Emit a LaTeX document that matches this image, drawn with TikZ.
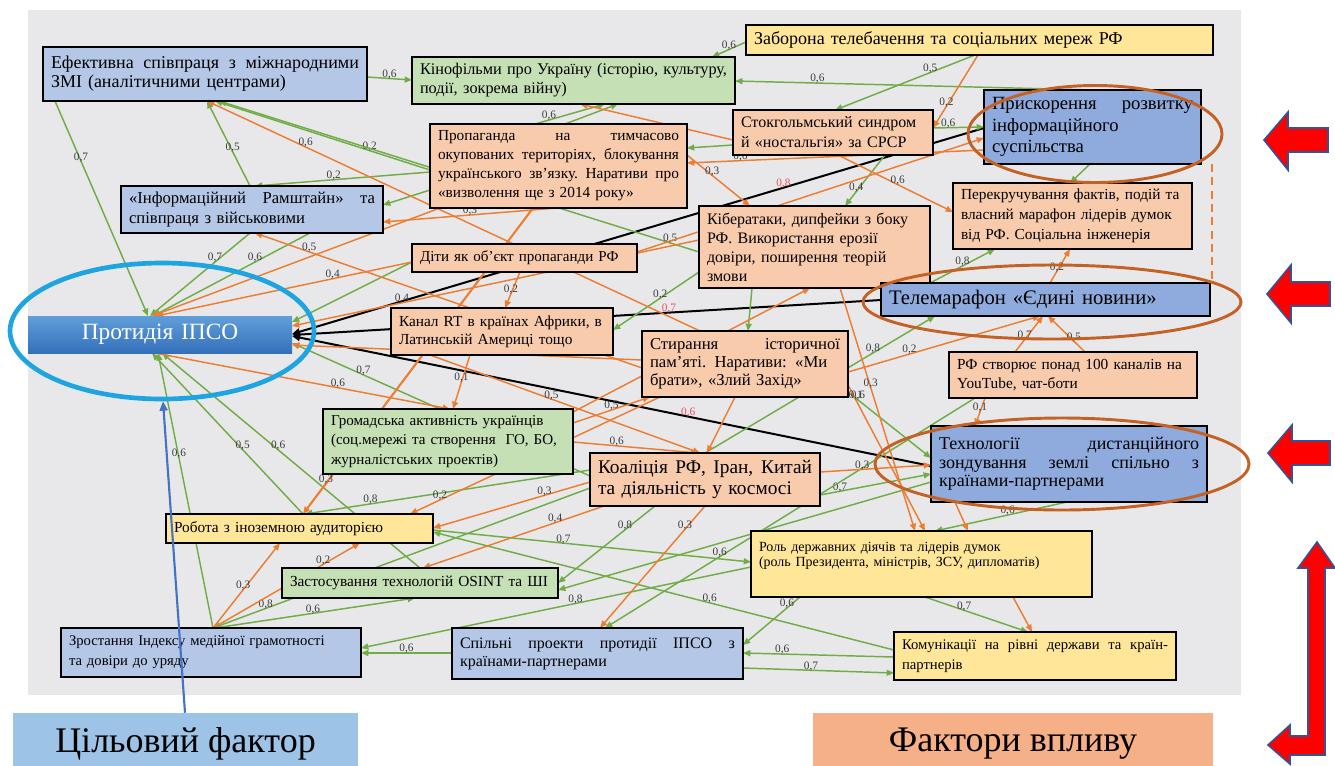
\documentclass[tikz,border=0pt]{standalone}
\usepackage{fontspec}
\setmainfont{Liberation Serif}
\usetikzlibrary{arrows.meta,shapes.geometric,calc}
\pgfdeclarelayer{bgl}\pgfdeclarelayer{edl}\pgfsetlayers{bgl,edl,main}
\definecolor{bgG}{RGB}{232,232,234}
\definecolor{cBlueL}{RGB}{180,199,231}
\definecolor{cBlueD}{RGB}{143,170,220}
\definecolor{cGreen}{RGB}{197,224,180}
\definecolor{cOrange}{RGB}{248,203,173}
\definecolor{cYellow}{RGB}{255,230,153}
\definecolor{eG}{RGB}{112,173,71}
\definecolor{eO}{RGB}{237,125,49}
\definecolor{ellO}{RGB}{196,98,38}
\definecolor{ellC}{RGB}{30,165,225}
\definecolor{labc}{RGB}{60,60,60}
\definecolor{labred}{RGB}{235,80,90}
\definecolor{arrR}{RGB}{255,0,0}
\definecolor{arrB}{RGB}{47,85,151}
\definecolor{arrBl}{RGB}{68,114,196}
\definecolor{tfc}{RGB}{157,195,230}
\definecolor{fvc}{RGB}{245,176,135}
\definecolor{protT}{RGB}{96,158,218}
\definecolor{protB}{RGB}{52,112,186}
\newcommand{\FS}[2]{\fontsize{#1}{#2}\selectfont}
\newcommand{\JL}[1]{\leavevmode\hbox to \hsize{\spaceskip=0.3em plus 1fil minus 0.15em\relax #1}}
\newcommand{\MkBox}[7]{%
  \pgfmathsetlengthmacro\mkW{(#4-#2)*0.75pt}%
  \pgfmathsetlengthmacro\mkH{(#5-#3)*0.75pt}%
  \pgfmathsetlengthmacro\mkT{(#4-#2-16)*0.75pt}%
  \node[bxs,#6,minimum width=\mkW,minimum height=\mkH,text width=\mkT] (#1) at ({(#2+#4)/2},{(#3+#5)/2}) {#7};}
\tikzset{
 bxs/.style={draw=black,line width=1.2pt,inner xsep=6pt,inner ysep=1pt,align=left,outer sep=0pt},
 gE/.style={draw=eG,line width=1.1pt,-{Triangle[length=5.5pt,width=4.5pt]}},
 oE/.style={draw=eO,line width=1.1pt,-{Triangle[length=5.5pt,width=4.5pt]}},
 bE/.style={draw=black,line width=1.5pt,-{Triangle[length=6pt,width=5pt]}},
 lab/.style={font=\FS{8.5}{9},text=labc,inner sep=0.5pt,yshift=3pt},
 labr/.style={lab,text=labred},
 ov/.style={ellipse,draw=ellO,line width=2.2pt,inner sep=0pt},
}
\begin{document}
\begin{tikzpicture}[x=0.75pt,y=-0.75pt]
\useasboundingbox (0,0) rectangle (1335,765);
\begin{pgfonlayer}{bgl}
\fill[bgG] (28,10) rectangle (1241,695);
\end{pgfonlayer}

\MkBox{ef}{43}{47}{367}{101}{fill=cBlueL,font=\FS{13.5}{14.3}}{\JL{Ефективна співпраця з міжнародними}\\ЗМІ (аналітичними центрами)}
\MkBox{kino}{412}{57}{735}{104}{fill=cGreen,font=\FS{12.2}{14.3}}{\JL{Кінофільми про Україну (історію, культуру,}\\події, зокрема війну)}
\MkBox{zab}{746}{25}{1213}{55}{fill=cYellow,font=\FS{13.5}{15}}{Заборона телебачення та соціальних мереж РФ}
\MkBox{prop}{430}{124}{687}{208}{fill=cOrange,font=\FS{11.5}{14.3}}{\JL{Пропаганда на тимчасово}\\\JL{окупованих територіях, блокування}\\\JL{українського зв’язку. Наративи про}\\«визволення ще з 2014 року»}
\MkBox{stok}{733}{110}{933}{155}{fill=cOrange,font=\FS{12}{15}}{Стокгольмський синдром\\й «ностальгія» за СРСР}
\MkBox{prysk}{984}{90}{1201}{164}{fill=cBlueD,font=\FS{14}{16}}{\JL{Прискорення розвитку}\\інформаційного\\суспільства}
\MkBox{ram}{121}{186}{383}{233}{fill=cBlueL,font=\FS{12.5}{15}}{\JL{«Інформаційний Рамштайн» та}\\співпраця з військовими}
\MkBox{perek}{953}{183}{1192}{249}{fill=cOrange,font=\FS{11.5}{15}}{Перекручування фактів, подій та\\власний марафон лідерів думок\\від РФ. Соціальна інженерія}
\MkBox{kiber}{699}{206}{930}{288}{fill=cOrange,font=\FS{12}{14.3}}{Кібератаки, дипфейки з боку\\РФ. Використання ерозії\\довіри, поширення теорій\\змови}
\MkBox{dity}{412}{244}{637}{272}{fill=cOrange,font=\FS{11.3}{14}}{Діти як об’єкт пропаганди РФ}
\MkBox{tele}{881}{283}{1210}{316}{fill=cBlueD,font=\FS{15.5}{17}}{Телемарафон «Єдині новини»}
\MkBox{prot}{28}{316}{292}{353}{draw=none,top color=protT,bottom color=protB,text=white,align=center,font=\FS{17.5}{19}}{Протидія ІПСО}
\MkBox{rt}{391}{308}{613}{355}{fill=cOrange,font=\FS{11.5}{13.5}}{Канал RT в країнах Африки, в\\Латинській Америці тощо}
\MkBox{styr}{642}{331}{848}{397}{fill=cOrange,font=\FS{12.5}{13.5}}{\JL{Стирання історичної}\\\JL{пам’яті. Наративи: «Ми}\\брати», «Злий Захід»}
\MkBox{rf100}{949}{352}{1197}{398}{fill=cOrange,font=\FS{11.5}{14.3}}{РФ створює понад 100 каналів на\\YouTube, чат-боти}
\MkBox{grom}{323}{409}{573}{474}{fill=cGreen,font=\FS{11.3}{14.6}}{Громадська активність українців\\(соц.мережі та створення\ \ ГО, БО,\\журналістських проектів)}
\MkBox{koal}{590}{453}{820}{506}{fill=cOrange,font=\FS{14.5}{15.8}}{\JL{Коаліція РФ, Іран, Китай}\\та діяльність у космосі}
\MkBox{tech}{931}{426}{1207}{502}{fill=cBlueD,font=\FS{13.5}{14}}{\JL{Технології дистанційного}\\\JL{зондування землі спільно з}\\країнами-партнерами}
\MkBox{rob}{166}{514}{433}{543}{fill=cYellow,font=\FS{11.5}{14}}{Робота з іноземною аудиторією}
\MkBox{rol}{751}{531}{1092}{597}{fill=cYellow,font=\FS{10.5}{11.3}}{Роль державних діячів та лідерів думок\\(роль Президента, міністрів, ЗСУ, дипломатів)\\[3pt]~}
\MkBox{zast}{282}{568}{558}{598}{fill=cGreen,font=\FS{11.5}{14}}{Застосування технологій OSINT та ШІ}
\MkBox{zros}{61}{628}{361}{677}{fill=cBlueL,font=\FS{11}{15}}{Зростання Індексу медійної грамотності\\та довіри до уряду}
\MkBox{spil}{452}{628}{743}{679}{fill=cBlueL,font=\FS{12}{13.5}}{\JL{Спільні проекти протидії ІПСО з}\\країнами-партнерами}
\MkBox{kom}{894}{632}{1176}{680}{fill=cYellow,font=\FS{11}{15}}{\JL{Комунікації на рівні держави та країн-}\\партнерів}

\node[fill=tfc,minimum width=258.75pt,minimum height=46.5pt,inner sep=0pt,font=\FS{27}{30}] (tf) at (185.5,744) {Цільовий фактор};
\node[fill=fvc,minimum width=300pt,minimum height=46.5pt,inner sep=0pt,font=\FS{27}{30}] (fv) at (1013,744) {Фактори впливу};

\begin{pgfonlayer}{edl}
% black
\draw[bE] (prysk.west |- 0,128) -- node[labr,pos=.29]{0,8} (prot.east |- 0,334);
\draw[bE] (tele.west |- 0,300) -- node[labr,pos=.36]{0,7} (prot.east |- 0,335);
\draw[bE] (tech.west |- 0,466) -- node[labr,pos=.38]{0,6} (prot.east |- 0,336);
% green
\draw[gE] (ef.east |- 0,77) -- node[lab,pos=.5]{0,6} (kino.west |- 0,80);
\draw[gE] (ef.south -| 55,0) -- node[lab,pos=.28]{0,7} (prot.north -| 148,0);
\draw[gE] (ram.north -| 250,0) -- node[lab,pos=.4]{0,5} (ef.south -| 207,0);
\draw[gE] (prop.west |- 0,170) -- node[lab,pos=.28]{0,2} (ef.south -| 215,0);
\draw[gE] (kiber.west |- 0,252) -- node[lab,pos=.06]{0,5} (ef.south -| 219,0);
\draw[gE] (ram.south -| 250,0) -- node[lab,pos=.35]{0,7} (prot.north -| 150,0);
\draw[gE] (ram.south -| 310,0) -- node[lab,pos=.35]{0,6} (prot.north -| 153,0);
\draw[gE] (zab.west |- 0,42) -- node[lab,pos=.5]{0,6} (kino.north -| 712,0);
\draw[gE] (prysk.north -| 1093,0) -- node[lab,pos=.77]{0,6} (kino.east |- 0,81);
\draw[gE] (zab.south -| 975,0) -- node[lab,pos=.32]{0,5} (stok.north -| 835,0);
\draw[gE] (stok.east |- 0,128) -- node[lab,pos=.3]{0,6} (prysk.west |- 0,127);
\draw[gE] (stok.south -| 885,0) -- node[lab,pos=.72]{0,4} (kiber.north -| 845,0);
\draw[gE] (prop.north -| 535,0) -- node[lab,pos=.2]{0,6} (kino.south -| 605,0);
\draw[gE] (prop.north -| 565,0) -- (kino.south -| 618,0);
\draw[gE] (stok.west |- 0,145) -- (prop.east |- 0,148);
\draw[gE] (prysk.south -| 1090,0) -- (perek.north -| 1070,0);
\draw[gE] (tele.north -| 930,0) -- node[lab,pos=.5]{0,8} (perek.south -| 995,0);
\draw[gE] (koal.west |- 0,476) -- node[lab,pos=.76]{0,7} (prot.east |- 0,343);
\draw[gE] (zros.north -| 213,0) -- node[lab,pos=.62]{0,6} (prot.south -| 158,0);
\draw[gE] (rob.north -| 303,0) -- node[lab,pos=.4]{0,5} (prot.south -| 152,0);
\draw[gE] (zast.north -| 420,0) -- node[lab,pos=.55]{0,6} (prot.south -| 162,0);
\draw[gE] (koal.west |- 0,470) -- node[lab,pos=.77]{0,8} (rob.north -| 305,0);
\draw[gE] (rob.east |- 0,530) -- node[lab,pos=.41]{0,7} (rol.west |- 0,562);
\draw[gE] (koal.south -| 655,0) -- node[lab,pos=.31]{0,8} (zast.east |- 0,583);
\draw[gE] (tech.south -| 1067,0) -- node[lab,pos=.45]{0,6} (rol.north -| 935,0);
\draw[gE] (rol.south -| 925,0) -- node[lab,pos=.38]{0,7} (kom.north -| 1028,0);
\draw[gE] (kom.west |- 0,657) -- node[lab,pos=.74]{0,6} (spil.east |- 0,653);
\draw[gE] (spil.east |- 0,668) -- node[lab,pos=.45]{0,7} (kom.west |- 0,673);
\draw[gE] (kom.west |- 0,650) -- node[lab,pos=.4]{0,6} (rob.east |- 0,532);
\draw[gE] (spil.west |- 0,653) -- node[lab,pos=.5]{0,6} (zros.east |- 0,653);
\draw[gE] (rol.west |- 0,567) -- node[lab,pos=.45]{0,8} (zros.east |- 0,648);
\draw[gE] (rol.south -| 800,0) -- node[lab,pos=.23]{0,6} (spil.east |- 0,645);
\draw[gE] (zros.north -| 215,0) -- node[lab,pos=.49]{0,6} (zast.south -| 415,0);
\draw[gE] (koal.west |- 0,488) -- node[lab,pos=.86]{0,8} (zros.north -| 213,0);
\draw[gE] (koal.north -| 705,0) -- node[lab,pos=.73]{0,8} (tele.south -| 935,0);
\draw[gE] (styr.east |- 0,392) -- node[lab,pos=.12]{0,6} (tech.west |- 0,458);
\draw[gE] (koal.east |- 0,495) -- node[lab,pos=.18]{0,7} (tech.west |- 0,474);
\draw[gE] (dity.west |- 0,262) -- (prot.east |- 0,322);
\draw[gE] (kiber.west |- 0,272) -- node[lab,pos=.45]{0,2} (rt.east |- 0,330);
\draw[gE] (kiber.south -| 752,0) -- (styr.north -| 748,0);
\draw[gE] (tech.west |- 0,482) -- (zast.east |- 0,590);
\draw[gE] (rf100.south -| 975,0) -- node[lab,pos=.69]{0,6} (spil.north -| 605,0);
\draw[gE] (prop.west |- 0,172) -- node[lab,pos=.55]{0,2} (ram.north -| 255,0);
\draw[gE] (prop.west |- 0,190) -- (ram.east |- 0,205);
% orange
\draw[oE] (styr.north -| 700,0) -- node[lab,pos=.8]{0,6} (ef.south -| 207,0);
\draw[oE] (stok.south -| 838,0) -- node[lab,pos=.52]{0,6} (perek.west |- 0,212);
\draw[oE] (prysk.west |- 0,150) -- node[lab,pos=.82]{0,6} (prop.east |- 0,163);
\draw[oE] (prop.east |- 0,155) -- node[lab,pos=.4]{0,3} (kiber.north -| 750,0);
\draw[oE] (zab.south -| 978,0) -- node[lab,pos=.7]{0,2} (stok.east |- 0,128);
\draw[oE] (tele.north -| 1050,0) -- node[lab,pos=.35]{0,2} (perek.south -| 1070,0);
\draw[oE] (rf100.north -| 1015,0) -- node[lab,pos=.35]{0,7} (tele.south -| 1043,0);
\draw[oE] (rf100.north -| 1085,0) -- node[lab,pos=.3]{0,5} (tele.south -| 1048,0);
\draw[oE] (styr.east |- 0,372) -- node[lab,pos=.32]{0,2} (tele.south -| 1040,0);
\draw[oE] (rf100.south -| 985,0) -- node[lab,pos=.5]{0,1} (tech.north -| 975,0);
\draw[oE] (koal.east |- 0,472) -- node[lab,pos=.38]{0,3} (tech.west |- 0,465);
\draw[oE] (kiber.south -| 840,0) -- node[lab,pos=.41]{0,3} (rol.north -| 915,0);
\draw[oE] (styr.east |- 0,385) -- node[lab,pos=.1]{0,1} (rol.north -| 925,0);
\draw[oE] (rol.south -| 1013,0) -- (kom.north -| 1032,0);
\draw[oE] (tech.south -| 955,0) -- (rol.north -| 968,0);
\draw[oE,line width=1.6pt] (prop.south -| 533,0) -- node[lab,pos=.9]{0,3} (rob.north -| 303,0);
\draw[oE] (zros.north -| 213,0) -- node[lab,pos=.45]{0,3} (rob.south -| 280,0);
\draw[oE] (zros.north -| 213,0) -- node[lab,pos=.75]{0,2} (rob.south -| 360,0);
\draw[oE] (koal.west |- 0,482) -- node[lab,pos=.29]{0,3} (rob.east |- 0,528);
\draw[oE] (koal.south -| 604,0) -- node[lab,pos=.27]{0,4} (zast.north -| 423,0);
\draw[oE] (koal.south -| 705,0) -- node[lab,pos=.19]{0,3} (spil.north -| 600,0);
\draw[oE] (prot.south -| 155,0) -- node[lab,pos=.62]{0,6} (grom.north -| 450,0);
\draw[oE] (rt.south -| 470,0) -- node[lab,pos=.5]{0,1} (grom.north -| 453,0);
\draw[oE] (grom.east |- 0,442) -- node[lab,pos=.35]{0,6} (koal.north -| 698,0);
\draw[oE] (grom.east |- 0,423) -- node[lab,pos=.5]{0,5} (styr.south -| 650,0);
\draw[oE] (styr.south -| 735,0) -- (koal.north -| 707,0);
\draw[oE] (styr.west |- 0,368) -- node[lab,pos=.86]{0,5} (ram.south -| 255,0);
\draw[oE] (styr.west |- 0,360) -- (prot.east |- 0,345);
\draw[oE] (prop.south -| 440,0) -- node[lab,pos=.22]{0,4} (prot.north -| 152,0);
\draw[oE] (dity.west |- 0,262) -- node[lab,pos=.31]{0,4} (prot.north -| 156,0);
\draw[oE] (kiber.west |- 0,240) -- node[lab,pos=.73]{0,4} (prot.east |- 0,326);
\draw[oE] (dity.south -| 520,0) -- node[lab,pos=.6]{0,2} (rt.north -| 505,0);
\draw[oE] (prop.south -| 557,0) -- node[lab,pos=.5]{0,3} (ram.east |- 0,222);
\draw[oE] (dity.east |- 0,252) -- (prysk.west |- 0,138);
\draw[oE] (grom.east |- 0,412) -- (kiber.south -| 810,0);
\draw[oE] (styr.south -| 660,0) -- node[lab,pos=.88]{0,2} (rob.north -| 410,0);
\draw[oE] (rt.south -| 430,0) -- node[lab,pos=.45]{0,5} (koal.north -| 700,0);
\draw[oE] (stok.west |- 0,140) -- (kino.south -| 580,0);
\end{pgfonlayer}

% ellipses
\node[ov,minimum width=190.5pt,minimum height=72.75pt] (ov1) at (1095,134) {};
\node[ov,minimum width=283.5pt,minimum height=55.5pt] (ov2) at (1052,302) {};
\node[ov,minimum width=280.5pt,minimum height=69pt] (ov3) at (1062,464) {};
\node[ellipse,draw=ellC,line width=3.5pt,inner sep=0pt,minimum width=228pt,minimum height=102pt] (ovP) at (162,331) {};

\draw[eO,line width=1.2pt,dash pattern=on 6pt off 4pt] (prysk.south -| 1212,0) -- (tele.north -| 1212,0);
\draw[draw=arrBl,line width=1.6pt,-{Triangle[length=7pt,width=6pt]}] (tf.north -| 185,0) -- (ovP.south -| 163,0);

% red arrows
\filldraw[fill=arrR,draw=arrB,line width=1.2pt] (1264,140) -- (1288,112) -- (1288,128) -- (1328,128) -- (1328,152) -- (1288,152) -- (1288,170) -- cycle;
\filldraw[fill=arrR,draw=arrB,line width=1.2pt] (1267,294) -- (1291,265) -- (1291,282) -- (1330,282) -- (1330,306) -- (1291,306) -- (1291,323) -- cycle;
\filldraw[fill=arrR,draw=arrB,line width=1.2pt] (1268,453) -- (1292,425) -- (1292,441) -- (1330,441) -- (1330,465) -- (1292,465) -- (1292,482) -- cycle;
\filldraw[fill=arrR,draw=arrB,line width=1.2pt] (1317,542) -- (1335,568) -- (1325,568) -- (1325,755) -- (1290,755) -- (1290,764) -- (1268,745) -- (1290,725) -- (1290,736) -- (1308,736) -- (1308,568) -- (1298,568) -- cycle;
\end{tikzpicture}
\end{document}
